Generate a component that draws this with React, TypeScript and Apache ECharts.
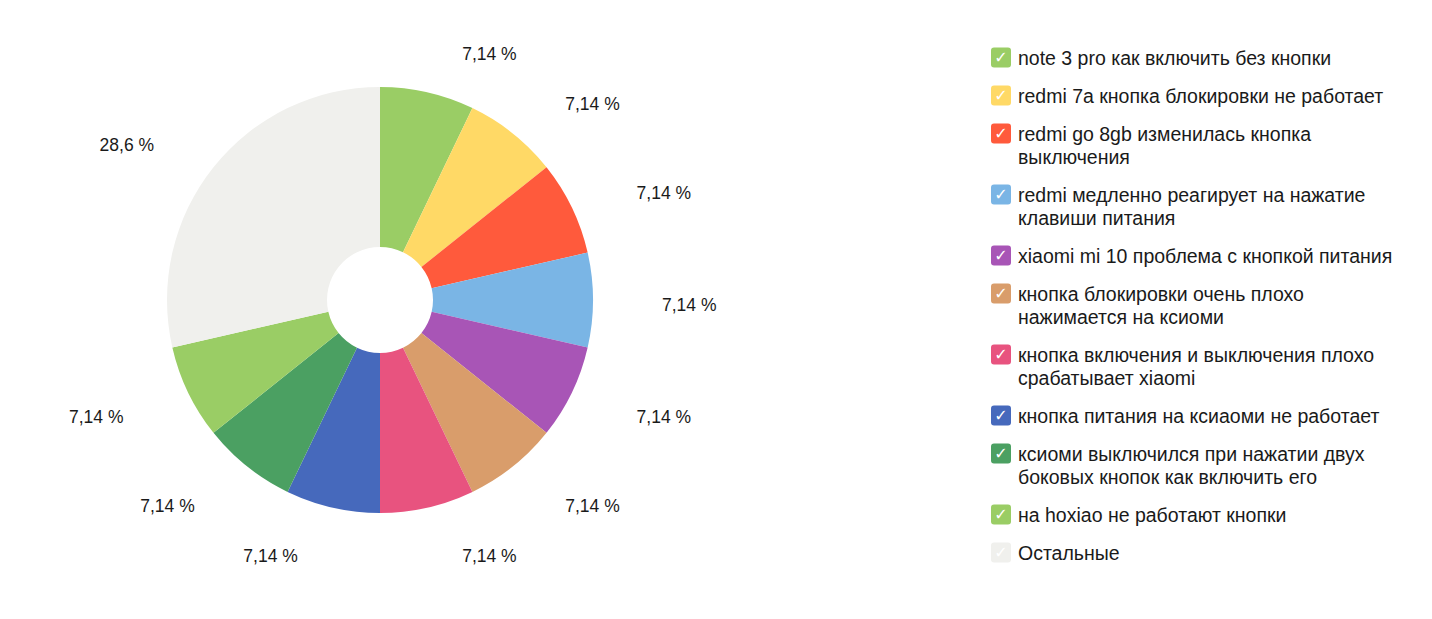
import React, { useEffect, useRef } from "react";
import * as echarts from "echarts";

const categories = [
  "note 3 pro как включить без кнопки",
  "redmi 7a кнопка блокировки не работает",
  "redmi go 8gb изменилась кнопка выключения",
  "redmi медленно реагирует на нажатие клавиши питания",
  "xiaomi mi 10 проблема с кнопкой питания",
  "кнопка блокировки очень плохо нажимается на ксиоми",
  "кнопка включения и выключения плохо срабатывает xiaomi",
  "кнопка питания на ксиаоми не работает",
  "ксиоми выключился при нажатии двух боковых кнопок как включить его",
  "на hoxiao не работают кнопки",
  "Остальные",
];

const values = [1, 1, 1, 1, 1, 1, 1, 1, 1, 1, 4];

// legend text, split into the lines shown in the legend
const legendLines = [
  ["note 3 pro как включить без кнопки"],
  ["redmi 7a кнопка блокировки не работает"],
  ["redmi go 8gb изменилась кнопка", "выключения"],
  ["redmi медленно реагирует на нажатие", "клавиши питания"],
  ["xiaomi mi 10 проблема с кнопкой питания"],
  ["кнопка блокировки очень плохо", "нажимается на ксиоми"],
  ["кнопка включения и выключения плохо", "срабатывает xiaomi"],
  ["кнопка питания на ксиаоми не работает"],
  ["ксиоми выключился при нажатии двух", "боковых кнопок как включить его"],
  ["на hoxiao не работают кнопки"],
  ["Остальные"],
];

const colors = [
  "#9ACD65",
  "#FFD966",
  "#FF5A3C",
  "#7AB5E5",
  "#A855B6",
  "#D99D6B",
  "#E8537F",
  "#4669BC",
  "#4BA062",
  "#9ACD65",
  "#F0F0ED",
];

const FONT = "Arial, 'Liberation Sans', sans-serif";
const TEXT_COLOR = "#1a1a1a";

export default function App() {
  const ref = useRef<HTMLDivElement>(null);

  useEffect(() => {
    if (!ref.current) return;
    const chart = echarts.init(ref.current, null, { renderer: "svg" });

    const total = values.reduce((a, b) => a + b, 0);

    const richFor = (color: string) => ({
      box: {
        backgroundColor: color,
        borderRadius: 3,
        width: 20,
        height: 20,
        lineHeight: 23,
        align: "center",
        color: "#ffffff",
        fontFamily: "'DejaVu Sans', sans-serif",
        fontSize: 16,
        fontWeight: "bold",
      },
      gap: { width: 7, height: 20, lineHeight: 23 },
      ind: { width: 27, height: 20, lineHeight: 23 },
      t: {
        fontFamily: FONT,
        fontSize: 19.5,
        lineHeight: 23,
        color: TEXT_COLOR,
      },
    });

    const legendData = categories.map((name, i) => ({
      name,
      icon: "none",
      textStyle: { rich: richFor(colors[i]) },
    }));

    chart.setOption({
      animation: false,
      backgroundColor: "#ffffff",
      color: colors,
      legend: {
        orient: "vertical",
        left: 986,
        top: 46,
        padding: 0,
        itemWidth: 0,
        itemHeight: 20,
        itemGap: 15,
        selectedMode: false,
        data: legendData,
        formatter: (name: string) => {
          const lines = legendLines[categories.indexOf(name)];
          return lines
            .map((ln, k) =>
              k === 0 ? "{box|✓}{gap| }{t|" + ln + "}" : "{ind| }{t|" + ln + "}"
            )
            .join("\n");
        },
        textStyle: {
          fontFamily: FONT,
          fontSize: 19.5,
          lineHeight: 23,
          color: TEXT_COLOR,
        },
      },
      series: [
        {
          type: "pie",
          center: [380, 300],
          radius: [53, 213],
          startAngle: 90,
          clockwise: true,
          avoidLabelOverlap: false,
          emphasis: { disabled: true },
          label: {
            show: true,
            position: "outside",
            fontFamily: FONT,
            fontSize: 17.5,
            color: TEXT_COLOR,
            formatter: (p: any) =>
              ((values[p.dataIndex] / total) * 100)
                .toPrecision(3)
                .replace(".", ",") + " %",
          },
          labelLine: { show: false, length: 44, length2: 20 },
          labelLayout: { dy: 5 },
          data: categories.map((name, i) => ({ name, value: values[i] })),
        },
      ],
    });

    const onResize = () => chart.resize();
    window.addEventListener("resize", onResize);
    return () => {
      window.removeEventListener("resize", onResize);
      chart.dispose();
    };
  }, []);

  return (
    <div
      ref={ref}
      style={{
        position: "fixed",
        left: 0,
        top: 0,
        width: "1432px",
        height: "619px",
        background: "#fff",
      }}
    />
  );
}
